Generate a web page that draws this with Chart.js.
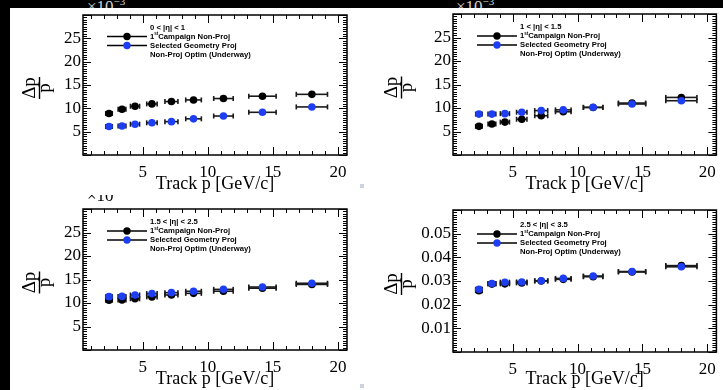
<!DOCTYPE html>
<html>
<head>
<meta charset="utf-8">
<script src="https://cdn.jsdelivr.net/npm/chart.js@4.4.1/dist/chart.umd.min.js"></script>
<style>
  body { margin: 0; background: #fff; }
  #page { position: relative; width: 723px; height: 390px; overflow: hidden; background: #fff; }
  canvas { position: absolute; }
  .blk { position: absolute; background: #000; }
  .expo { position: absolute; font: 17px "Liberation Serif"; color: #d0d0d0; line-height: 17px; white-space: nowrap; }
  .expo sup { font-size: 11px; }
  .dot { position: absolute; width: 4px; height: 4px; background: #cdd3de; }
</style>
</head>
<body>
<div id="page">
  <canvas id="c0" width="362" height="195" style="left:0;top:0"></canvas>
  <canvas id="c1" width="361" height="195" style="left:362px;top:0"></canvas>
  <canvas id="c2" width="362" height="195" style="left:0;top:195px"></canvas>
  <canvas id="c3" width="361" height="195" style="left:362px;top:195px"></canvas>
  <div class="blk" style="left:0;top:0;width:723px;height:8px;overflow:hidden">
    <span class="expo" style="left:87px;top:-7px">×10<sup>−3</sup></span>
    <span class="expo" style="left:456px;top:-7px">×10<sup>−3</sup></span>
  </div>
  <div class="blk" style="left:0;top:0;width:10px;height:390px"></div>
  <div class="dot" style="left:360px;top:184px"></div>
  <div class="dot" style="left:360px;top:384px"></div>
</div>
<script>
// track momentum bins [GeV/c] and half bin widths
const trackP    = [2.4, 3.4, 4.4, 5.7, 7.2, 8.9, 11.2, 14.2, 18.0];
const trackPErr = [0.25, 0.3, 0.35, 0.4, 0.5, 0.6, 0.75, 1.05, 1.2];

const etaBins = ['0 < |η| < 1', '1 < |η| < 1.5', '1.5 < |η| < 2.5', '2.5 < |η| < 3.5'];
const legendNames = ['1stCampaign Non-Proj', 'Selected Geometry Proj', 'Non-Proj Optim (Underway)'];

// dp/p  (first three panels in units of 1e-3)
const campaign0 = [8.9, 9.8, 10.45, 10.95, 11.45, 11.8, 12.1, 12.6, 13.0];
const geometry0 = [6.1, 6.2, 6.6, 6.9, 7.15, 7.75, 8.35, 9.15, 10.3];
const campaign1 = [6.1, 6.6, 7.0, 7.6, 8.35, 9.2, 10.1, 11.05, 12.25];
const geometry1 = [8.7, 8.7, 8.8, 9.1, 9.45, 9.6, 10.15, 10.85, 11.55];
const campaign2 = [10.6, 10.65, 10.9, 11.3, 11.7, 12.05, 12.5, 13.15, 13.95];
const geometry2 = [11.35, 11.4, 11.7, 12.0, 12.2, 12.5, 12.9, 13.4, 14.2];
const campaign3 = [0.0259, 0.0287, 0.0288, 0.0292, 0.0300, 0.0307, 0.0318, 0.0338, 0.0365];
const geometry3 = [0.0265, 0.0289, 0.0295, 0.0296, 0.0301, 0.0311, 0.0321, 0.0340, 0.0360];

const campaign = [campaign0, campaign1, campaign2, campaign3];
const geometry = [geometry0, geometry1, geometry2, geometry3];
const yMax  = [30, 30, 30, 0.06];
const yStep = [5, 5, 5, 0.01];
const xMin = 0.4, xMax = 20.7;

// pad geometry
const pads = [
  { top: 15, right: 15, yW: 83, xH: 40, leg: 12.5 },
  { top: 14, right: 6,  yW: 91, xH: 40, leg: 13 },
  { top: 14, right: 15, yW: 83, xH: 40, leg: 13 },
  { top: 15, right: 5,  yW: 91, xH: 38, leg: 15 }
];

const BLUE = '#1d3ef2';
const serif = '"Liberation Serif"';
Chart.defaults.font.family = serif;

function pts(ys) {
  return ys.map((v, k) => ({ x: trackP[k], y: v, xErr: trackPErr[k] }));
}

function seg(ctx, x0, y0, x1, y1) {
  ctx.beginPath(); ctx.moveTo(x0, y0); ctx.lineTo(x1, y1); ctx.stroke();
}

const rootStyle = {
  id: 'rootStyle',
  beforeDatasetDraw(chart, args) {
    const ctx = chart.ctx, xs = chart.scales.x, ys = chart.scales.y;
    const ds = chart.data.datasets[args.index];
    ctx.save();
    ctx.strokeStyle = '#1a1a1a';
    ctx.lineWidth = 1.6;
    ds.data.forEach(p => {
      const y = ys.getPixelForValue(p.y);
      const x0 = xs.getPixelForValue(p.x - p.xErr), x1 = xs.getPixelForValue(p.x + p.xErr);
      seg(ctx, x0, y, x1, y);
      seg(ctx, x0, y - 2.5, x0, y + 2.5);
      seg(ctx, x1, y - 2.5, x1, y + 2.5);
    });
    ctx.restore();
  },
  afterDraw(chart, args, opts) {
    const i = opts.pane, pad = pads[i];
    const ctx = chart.ctx, a = chart.chartArea, xs = chart.scales.x, ys = chart.scales.y;
    ctx.save();
    ctx.strokeStyle = '#000';
    ctx.lineWidth = 1;
    // x ticks, top and bottom
    for (let k = Math.ceil(xs.min); k <= xs.max; k++) {
      const px = Math.round(xs.getPixelForValue(k)) + 0.5;
      const len = k % 5 === 0 ? 8 : 4;
      seg(ctx, px, a.bottom, px, a.bottom - len);
      seg(ctx, px, a.top, px, a.top + len);
    }
    // y ticks, left and right
    const minor = yStep[i] / 10;
    for (let k = 0; k * minor <= ys.max + 1e-9; k++) {
      const py = Math.round(ys.getPixelForValue(k * minor)) + 0.5;
      const len = k % 10 === 0 ? 8 : 4;
      seg(ctx, a.left, py, a.left + len, py);
      seg(ctx, a.right, py, a.right - len, py);
    }
    ctx.lineWidth = 1.5;
    ctx.strokeRect(a.left, a.top, a.right - a.left, a.bottom - a.top);

    // legend
    const lx0 = a.left + 24, lx1 = a.left + 64, tx = a.left + 67;
    const ly = a.top + pad.leg;
    ctx.fillStyle = '#000';
    ctx.textBaseline = 'middle';
    ctx.textAlign = 'left';
    ctx.font = 'bold 7.7px "Liberation Sans"';
    ctx.fillText(etaBins[i], tx, ly);
    [['#000', 1], [BLUE, 2]].forEach(([c, r]) => {
      const y = ly + 9 * r;
      ctx.lineWidth = 1.3;
      ctx.strokeStyle = '#000';
      seg(ctx, lx0, y, lx1, y);
      ctx.fillStyle = c;
      ctx.beginPath(); ctx.arc((lx0 + lx1) / 2, y, 3.7, 0, Math.PI * 2); ctx.fill();
    });
    ctx.fillStyle = '#000';
    legendNames.forEach((name, r) => {
      const y = ly + 9 * (r + 1);
      const m = name.match(/^1st(.*)$/);
      ctx.font = 'bold 7.7px "Liberation Sans"';
      if (m) {
        ctx.fillText('1', tx, y);
        const w1 = ctx.measureText('1').width;
        ctx.font = 'bold 4.5px "Liberation Sans"';
        ctx.fillText('st', tx + w1, y - 2.5);
        const w2 = ctx.measureText('st').width;
        ctx.font = 'bold 7.7px "Liberation Sans"';
        ctx.fillText(m[1], tx + w1 + w2, y);
      } else {
        ctx.fillText(name, tx, y);
      }
    });

    // y title: dp / p as a fraction
    ctx.save();
    ctx.translate(39.5, (a.top + a.bottom) / 2 + 3);
    ctx.rotate(-Math.PI / 2);
    ctx.font = '19px ' + serif;
    ctx.textAlign = 'center';
    ctx.textBaseline = 'alphabetic';
    ctx.fillText('Δp', 0, -4.5);
    ctx.fillText('p', 0, 10.5);
    ctx.fillRect(-11, -0.7, 22, 1.4);
    ctx.restore();

    // exponent, cut by the pad edge
    if (i === 2) {
      ctx.font = '17px ' + serif;
      ctx.textBaseline = 'alphabetic';
      ctx.fillText('×10', a.left + 4, 6);
      const w = ctx.measureText('×10').width;
      ctx.font = '11px ' + serif;
      ctx.fillText('−3', a.left + 4 + w, 0);
    }
    ctx.restore();
  }
};

for (let i = 0; i < 4; i++) {
  const pad = pads[i];
  new Chart(document.getElementById('c' + i), {
    type: 'scatter',
    data: {
      datasets: [
        { label: legendNames[0], data: pts(campaign[i]), backgroundColor: '#000', borderWidth: 0, pointRadius: 3.8, order: 2 },
        { label: legendNames[1], data: pts(geometry[i]), backgroundColor: BLUE, borderWidth: 0, pointRadius: 3.8, order: 1 }
      ]
    },
    plugins: [rootStyle],
    options: {
      responsive: false,
      animation: false,
      events: [],
      layout: { padding: { top: pad.top, right: pad.right, left: 0, bottom: 0 } },
      plugins: { legend: { display: false }, tooltip: { enabled: false }, rootStyle: { pane: i } },
      scales: {
        x: {
          type: 'linear', min: xMin, max: xMax,
          afterFit: s => { s.height = pad.xH; },
          grid: { display: false, drawTicks: false },
          border: { display: false },
          ticks: { stepSize: 5, includeBounds: false, color: '#000', padding: 7, maxRotation: 0, autoSkip: false,
                   font: { family: serif, size: 17 } },
          title: { display: true, text: 'Track p [GeV/c]', color: '#000', font: { family: serif, size: 18 },
                   padding: { top: 0, bottom: 0 } }
        },
        y: {
          type: 'linear', min: 0, max: yMax[i],
          afterFit: s => { s.width = pad.yW; },
          grid: { display: false, drawTicks: false },
          border: { display: false },
          ticks: {
            stepSize: yStep[i], color: '#000', padding: 2, autoSkip: false,
            font: { family: serif, size: 17 },
            callback: v => {
              if (v <= 1e-9 || v >= yMax[i] - 1e-9) return '';
              return i === 3 ? v.toFixed(2) : Math.round(v);
            }
          }
        }
      }
    }
  });
}
</script>
</body>
</html>
